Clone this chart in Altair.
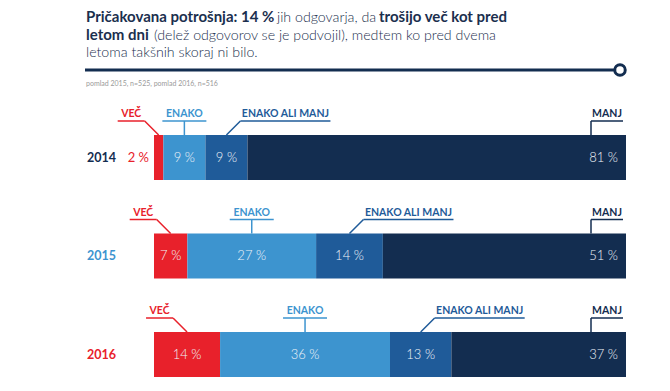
import altair as alt
import pandas as pd

# ---------------- data ----------------
years = ["2014", "2015", "2016"]
categories = ["VEČ", "ENAKO", "ENAKO ALI MANJ", "MANJ"]
values_2014 = [2, 9, 9, 81]
values_2015 = [7, 27, 14, 51]
values_2016 = [14, 36, 13, 37]
all_values = [values_2014, values_2015, values_2016]

cat_colors = ["#e8212b", "#3d94cf", "#1f5b99", "#132d50"]
year_colors = ["#132d50", "#3d94cf", "#e8212b"]

title_lines = [
    [("Pričakovana potrošnja: 14 %", "bold"), ("jih odgovarja, da", "light"), ("trošijo več kot pred", "bold")],
    [("letom dni", "bold"), ("(delež odgovorov se je podvojil), medtem ko pred dvema", "light")],
    [("letoma takšnih skoraj ni bilo.", "light")],
]
title_run_x = [[78, 269, 371], [78, 146], [78]]
subtitle = "pomlad 2015, n=525, pomlad 2016, n=516"

# ---------------- layout ----------------
PAD_TOP = 10
W, H = 654, 391 - 16 - PAD_TOP
X0, X1 = 146, 618
BARW = X1 - X0
TOP0, PITCH, BH = 117, 98.5, 45
RISE = 14          # height of callout leader
KNEE = 14          # horizontal offset of diagonal leaders
PX = 1.0 / BARW    # one pixel in share units
FONT = "Lato"
NAVY = "#132d50"
LABEL_LIGHT = "#eef3f8"
cat_col = dict(zip(categories, cat_colors))

bars, labels_in, labels_out, labels_right, segs, callouts = [], [], [], [], [], []
for i, (yr, vals) in enumerate(zip(years, all_values)):
    tot = sum(vals)
    top = TOP0 + i * PITCH
    cum = 0.0
    for c, v in zip(categories, vals):
        col = cat_col[c]
        s, e = cum / tot, (cum + v) / tot
        cum += v
        cx = (s + e) / 2
        bars.append(dict(year=yr, cat=c, s=s, e=e, top=top, bot=top + BH, col=col))
        lab = f"{v} %"
        ymid = top + BH / 2
        if c == "MANJ":
            labels_right.append(dict(x=e - 8 * PX, y=ymid, t=lab))
        elif (e - s) * BARW < 20:
            labels_out.append(dict(x=s - 5 * PX, y=ymid, t=lab, col=col))
        else:
            labels_in.append(dict(x=cx, y=ymid, t=lab))
        ly = top - RISE
        if c == "VEČ":
            kx = cx - KNEE * PX
            segs += [dict(x=cx, x2=kx, y=top, y2=ly, col=col),
                     dict(x=kx, x2=kx - 27 * PX, y=ly, y2=ly, col=col)]
            tx = kx - 13.5 * PX
        elif c == "ENAKO":
            segs += [dict(x=cx, x2=cx, y=top, y2=ly, col=col),
                     dict(x=cx - 22 * PX, x2=cx + 22 * PX, y=ly, y2=ly, col=col)]
            tx = cx
        elif c == "ENAKO ALI MANJ":
            kx = cx + KNEE * PX
            segs += [dict(x=cx, x2=kx, y=top, y2=ly, col=col),
                     dict(x=kx, x2=kx + 90 * PX, y=ly, y2=ly, col=col)]
            tx = kx + 45 * PX
        else:
            px = e - 35 * PX
            segs += [dict(x=px, x2=px, y=top, y2=ly, col=col),
                     dict(x=px, x2=px + 32 * PX, y=ly, y2=ly, col=col)]
            tx = px + 16 * PX
        callouts.append(dict(x=tx, y=ly - 4, t=c, col=col))

year_df = pd.DataFrame([dict(year=y, y=TOP0 + i * PITCH + BH / 2, col=year_colors[i])
                        for i, y in enumerate(years)])

xs = alt.Scale(domain=[0, 1], range=[X0, X1])
ys = alt.Scale(domain=[0, H], range=[0, H])
X = lambda f: alt.X(f, type="quantitative", scale=xs, axis=None)
Y = lambda f: alt.Y(f, type="quantitative", scale=ys, axis=None)
C = alt.Color("col:N", scale=None, legend=None)

bar_layer = alt.Chart(pd.DataFrame(bars)).mark_rect().encode(
    x=X("s"), x2="e", y=Y("top"), y2="bot", color=C)

seg_layer = alt.Chart(pd.DataFrame(segs)).mark_rule(strokeWidth=1.5).encode(
    x=X("x"), x2="x2", y=Y("y"), y2="y2", color=C)

call_layer = alt.Chart(pd.DataFrame(callouts)).mark_text(
    font=FONT, fontSize=10.5, fontWeight="bold", baseline="alphabetic", align="center"
).encode(x=X("x"), y=Y("y"), text="t:N", color=C)

in_layer = alt.Chart(pd.DataFrame(labels_in)).mark_text(
    font=FONT, fontSize=13, fontWeight=300, color=LABEL_LIGHT, align="center", baseline="middle"
).encode(x=X("x"), y=Y("y"), text="t:N")

right_layer = alt.Chart(pd.DataFrame(labels_right)).mark_text(
    font=FONT, fontSize=13, fontWeight=300, color=LABEL_LIGHT, align="right", baseline="middle"
).encode(x=X("x"), y=Y("y"), text="t:N")

out_layer = alt.Chart(pd.DataFrame(labels_out)).mark_text(
    font=FONT, fontSize=13, fontWeight="normal", align="right", baseline="middle"
).encode(x=X("x"), y=Y("y"), text="t:N", color=C)

year_layer = alt.Chart(year_df).mark_text(
    font=FONT, fontSize=12.5, fontWeight="bold", align="left", baseline="middle"
).encode(x=alt.value(79), y=Y("y"), text="year:N", color=C)

title_rows = []
for li, (runs, rx) in enumerate(zip(title_lines, title_run_x)):
    for (t, w), x in zip(runs, rx):
        title_rows.append(dict(t=t, w=w, x=x, y=4 + li * 17.5))
tdf = pd.DataFrame(title_rows)
title_layers = []
for w, fw, fs in [("bold", "bold", 15), ("light", 300, 14.2)]:
    title_layers.append(
        alt.Chart(tdf[tdf.w == w]).mark_text(
            font=FONT, fontSize=fs, fontWeight=fw, color="#1b2f4e", align="left", baseline="alphabetic"
        ).encode(x=alt.X("x:Q", scale=None, axis=None), y=alt.Y("y:Q", scale=None, axis=None), text="t:N")
    )

sub_layer = alt.Chart(pd.DataFrame([dict(t=subtitle)])).mark_text(
    font=FONT, fontSize=7, color="#9a9a9a", align="left", baseline="middle"
).encode(x=alt.value(78), y=alt.value(66), text="t:N")

rule_layer = alt.Chart(pd.DataFrame([dict(a=1)])).mark_rule(color=NAVY, strokeWidth=3).encode(
    x=alt.value(77), x2=alt.value(606), y=alt.value(52))
dot_layer = alt.Chart(pd.DataFrame([dict(a=1)])).mark_point(
    shape="circle", size=110, filled=True, fill="white", stroke=NAVY, strokeWidth=3, opacity=1
).encode(x=alt.value(612), y=alt.value(52))

chart = alt.layer(
    bar_layer, seg_layer, call_layer, in_layer, right_layer, out_layer, year_layer,
    *title_layers, sub_layer, rule_layer, dot_layer
).properties(width=W, height=H,
             padding={"left": 0, "top": PAD_TOP, "right": 0, "bottom": 0},
             autosize=alt.AutoSizeParams(type="none")
).configure_view(stroke=None)

chart.save("out.html", embed_options={"renderer": "svg", "actions": False})
